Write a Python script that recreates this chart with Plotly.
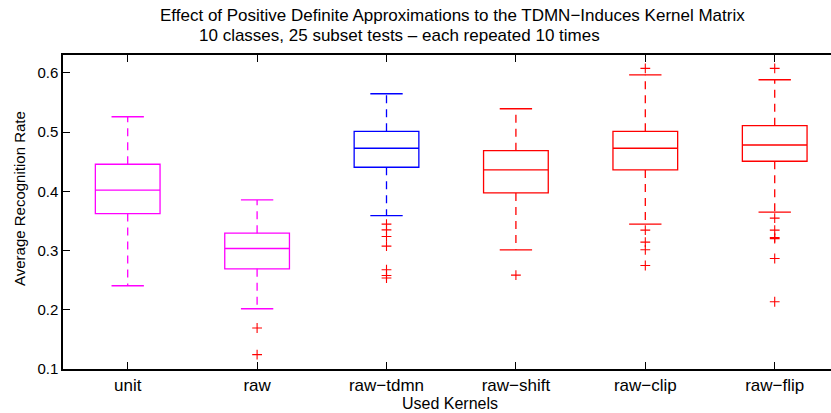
import plotly.graph_objects as go

# ---- data ----
kernels = ["unit", "raw", "raw\u2212tdmn", "raw\u2212shift", "raw\u2212clip", "raw\u2212flip"]
positions = [1, 2, 3, 4, 5, 6]
lower_whisker = [0.2405, 0.2017, 0.3590, 0.3012, 0.3445, 0.3647]
q1 = [0.3624, 0.2691, 0.4405, 0.3972, 0.4360, 0.4507]
median = [0.4018, 0.3034, 0.4726, 0.4360, 0.4726, 0.4781]
q3 = [0.4456, 0.3293, 0.5012, 0.4685, 0.5012, 0.5107]
upper_whisker = [0.5258, 0.3854, 0.5646, 0.5393, 0.5966, 0.5882]
outliers = [
    [],
    [0.1692, 0.1242],
    [0.3445, 0.3349, 0.3236, 0.3074, 0.2675, 0.2578, 0.2535],
    [0.2585],
    [0.6074, 0.3344, 0.3141, 0.3012, 0.2747],
    [0.6074, 0.3546, 0.3344, 0.3219, 0.3200, 0.2865, 0.2135],
]
box_colors = ["#FF00FF", "#FF00FF", "#0000FF", "#FF0000", "#FF0000", "#FF0000"]
y_ticks = [0.1, 0.2, 0.3, 0.4, 0.5, 0.6]

title_line1 = "Effect of Positive Definite Approximations to the TDMN\u2212Induces Kernel Matrix"
title_line2 = "10 classes, 25 subset tests \u2013 each repeated 10 times"
x_title = "Used Kernels"
y_title = "Average Recognition Rate"

FONT = "Liberation Sans, Arial, Helvetica, sans-serif"
BOX_W = 0.5
CAP_HALF = 0.125
LW = 1.3

# plot area in pixels
L, R, T, B = 63, 0, 55, 44
W, H = 831, 413
PW, PH = W - L - R, H - T - B


def px_x(p):
    return (p - L) / PW


def px_y(p):
    return (H - B - p) / PH


fig = go.Figure()

for i, pos in enumerate(positions):
    c = box_colors[i]
    fig.add_trace(go.Box(
        x=[pos], q1=[q1[i]], median=[median[i]], q3=[q3[i]],
        lowerfence=[q1[i]], upperfence=[q3[i]],
        width=BOX_W, whiskerwidth=0,
        line=dict(color=c, width=LW), fillcolor="rgba(0,0,0,0)",
        boxpoints=False, showlegend=False, hoverinfo="skip",
    ))
    fig.add_trace(go.Scatter(
        x=[pos, pos, None, pos, pos],
        y=[q3[i], upper_whisker[i], None, q1[i], lower_whisker[i]],
        mode="lines", line=dict(color=c, width=LW, dash="8px,6px"),
        showlegend=False, hoverinfo="skip",
    ))
    fig.add_trace(go.Scatter(
        x=[pos - CAP_HALF, pos + CAP_HALF, None, pos - CAP_HALF, pos + CAP_HALF],
        y=[upper_whisker[i], upper_whisker[i], None, lower_whisker[i], lower_whisker[i]],
        mode="lines", line=dict(color=c, width=LW),
        showlegend=False, hoverinfo="skip",
    ))
    if outliers[i]:
        fig.add_trace(go.Scatter(
            x=[pos] * len(outliers[i]), y=outliers[i], mode="markers",
            marker=dict(symbol="cross-thin-open", size=7, color="#FF0000",
                        line=dict(color="#FF0000", width=1.1)),
            showlegend=False, hoverinfo="skip",
        ))

fig.update_layout(
    width=W, height=H,
    margin=dict(l=L, r=R, t=T, b=B),
    paper_bgcolor="white", plot_bgcolor="white",
    font=dict(family=FONT, size=15, color="black"),
    xaxis=dict(
        range=[0.5, 6.435], tickvals=positions, ticktext=kernels,
        ticks="inside", ticklen=7, tickcolor="black", tickwidth=1,
        showline=True, linecolor="black", linewidth=1.5, mirror="ticks",
        showgrid=False, zeroline=False, tickfont=dict(size=17),
    ),
    yaxis=dict(
        range=[0.1, 0.63], tickvals=y_ticks, ticktext=[f"{v:.1f}" for v in y_ticks],
        ticks="inside", ticklen=7, tickcolor="black", tickwidth=1,
        showline=True, linecolor="black", linewidth=1.5,
        showgrid=False, zeroline=False, tickfont=dict(size=15),
    ),
    annotations=[
        dict(text=title_line1, xref="paper", yref="paper",
             x=px_x(452), y=px_y(16), xanchor="center", yanchor="middle",
             showarrow=False, font=dict(size=17)),
        dict(text=title_line2, xref="paper", yref="paper",
             x=px_x(399), y=px_y(36), xanchor="center", yanchor="middle",
             showarrow=False, font=dict(size=17)),
        dict(text=x_title, xref="paper", yref="paper",
             x=px_x(450), y=px_y(403), xanchor="center", yanchor="middle",
             showarrow=False, font=dict(size=16)),
        dict(text=y_title, xref="paper", yref="paper", textangle=-90,
             x=px_x(19), y=px_y(199), xanchor="center", yanchor="middle",
             showarrow=False, font=dict(size=15)),
    ],
)

fig.write_html("out.html", config={"displayModeBar": False},
               post_script="document.body.style.margin='0';")
